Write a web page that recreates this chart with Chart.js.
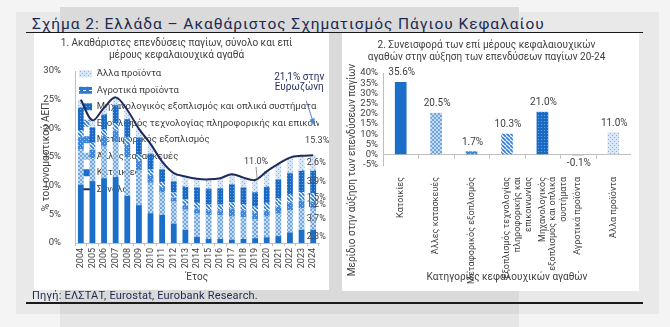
<!DOCTYPE html>
<html lang="el">
<head>
<meta charset="utf-8">
<title>Σχήμα 2: Ελλάδα – Ακαθάριστος Σχηματισμός Πάγιου Κεφαλαίου</title>
<script src="https://cdn.jsdelivr.net/npm/chart.js@4.4.1/dist/chart.umd.min.js"></script>
<style>
  html, body { margin: 0; padding: 0; }
  body {
    width: 670px; height: 327px; position: relative; overflow: hidden;
    background: #f4f4f4; font-family: Roboto, "Noto Sans", sans-serif;
  }
  .frame { position: absolute; left: 16px; top: 12px; width: 643px; height: 302px; background: #e9e9e9; }
  .band { position: absolute; left: 60px; top: 7px; width: 459px; height: 307px; background: #dadada; }
  .band-low { position: absolute; left: 60px; top: 314px; width: 459px; height: 13px; background: #e6e6e6; }
  .title {
    position: absolute; left: 32px; top: 15px; font-size: 15.5px; line-height: 18px;
    letter-spacing: 0.95px; color: #1d2a50; white-space: nowrap;
  }
  .rule { position: absolute; left: 26px; width: 617px; background: #1a1a1a; }
  .panel { position: absolute; background: #fff; }
  .panel canvas { display: block; }
  .source {
    position: absolute; left: 32px; top: 289px; font-size: 11px; line-height: 14px;
    letter-spacing: 0.2px; color: #1d2a50; white-space: nowrap;
  }
</style>
</head>
<body>
<div class="frame"></div>
<div class="band"></div>
<div class="band-low"></div>
<div class="title">Σχήμα 2: Ελλάδα – Ακαθάριστος Σχηματισμός Πάγιου Κεφαλαίου</div>
<div class="rule" style="top:32px;height:1px"></div>
<div class="panel" style="left:34px;top:33px;width:295px;height:257px">
  <canvas id="left" width="295" height="257"></canvas>
</div>
<div class="panel" style="left:342px;top:33px;width:297px;height:258px">
  <canvas id="right" width="297" height="258"></canvas>
</div>
<div class="source">Πηγή: ΕΛΣΤΑΤ, Eurostat, Eurobank Research.</div>
<div class="rule" style="top:302px;height:1.5px"></div>

<script>
// Figure 2: Greece, gross fixed capital formation.
// Left: GFCF by asset type (% of nominal GDP), right: contributions 2020-24.

const years = ["2004", "2005", "2006", "2007", "2008", "2009", "2010", "2011", "2012", "2013",
  "2014", "2015", "2016", "2017", "2018", "2019", "2020", "2021", "2022", "2023", "2024"];

// % of nominal GDP
const housing = [10.2, 10.8, 11.3, 11.5, 8.2, 6.6, 5.2, 4.9, 3.4, 2.3,
  1.1, 0.7, 0.7, 0.6, 0.7, 0.85, 1.0, 1.2, 1.85, 2.3, 2.3];
const otherConstruction = [6.2, 4.0, 5.5, 6.1, 6.8, 6.1, 5.3, 3.9, 3.8, 3.5,
  4.0, 4.2, 4.1, 4.0, 3.8, 3.3, 3.6, 3.9, 3.9, 3.8, 3.7];
const transport = [2.0, 1.5, 1.8, 2.0, 2.1, 1.6, 1.2, 0.8, 0.7, 0.8,
  0.9, 0.8, 0.9, 1.4, 1.2, 1.1, 1.0, 1.2, 1.3, 1.3, 1.2];
const ict = [1.3, 1.2, 1.2, 1.3, 1.3, 1.2, 1.1, 1.0, 0.9, 1.0,
  1.0, 1.0, 1.0, 1.1, 1.1, 1.1, 1.4, 1.5, 1.5, 1.5, 1.5];
const machinery = [3.8, 2.6, 2.6, 3.1, 3.2, 2.8, 2.7, 2.2, 1.9, 2.2,
  2.6, 2.7, 2.8, 3.1, 2.8, 2.45, 2.8, 3.2, 3.6, 3.7, 3.9];
const agri = [0.1, 0.1, 0.1, 0.1, 0.1, 0.1, 0.1, 0.1, 0.1, 0.1,
  0.1, 0.1, 0.1, 0.1, 0.1, 0.1, 0.1, 0.1, 0.1, 0.1, 0.1];
const otherProducts = [1.4, 1.2, 1.1, 1.3, 1.5, 1.5, 1.7, 1.3, 1.4, 1.7,
  1.5, 1.6, 1.7, 1.7, 1.7, 2.1, 2.6, 2.7, 2.65, 2.5, 2.6];
const total = [25.0, 21.4, 23.6, 25.4, 23.2, 19.9, 17.3, 14.2, 12.2, 11.6,
  11.2, 11.1, 11.3, 12.0, 11.4, 11.0, 12.5, 13.8, 14.9, 15.2, 15.3];

// contribution to GFCF growth 2020-24, %
const contribCategories = [
  "Κατοικίες",
  "Άλλες κατασκευές",
  "Μεταφορικός εξοπλισμός",
  ["Εξοπλισμός τεχνολογίας", "πληροφορικής και", "επικοινωνίας"],
  ["Μηχανολογικός", "εξοπλισμός και οπλικά", "συστήματα"],
  "Αγροτικά προϊόντα",
  "Άλλα προϊόντα",
];
const contribValues = [35.6, 20.5, 1.7, 10.3, 21.0, -0.1, 11.0];

const GREY = "#404040";
const NAVY = "#1f2a5c";
const AXIS = "#bfbfbf";
const FONT = "Roboto";
Chart.defaults.font.family = FONT;
Chart.defaults.color = GREY;

function tile(w, h, paint) {
  const c = document.createElement("canvas");
  c.width = w; c.height = h;
  const g = c.getContext("2d");
  paint(g);
  return g.createPattern(c, "repeat");
}

const fills = {
  housing: "#1c6fc9",
  otherConstruction: tile(4, 4, g => {
    g.fillStyle = "#c4dbf3"; g.fillRect(0, 0, 4, 4);
    g.fillStyle = "#6fa6e0"; g.fillRect(0, 0, 2, 2); g.fillRect(2, 2, 2, 2);
  }),
  transport: tile(4, 4, g => {
    g.fillStyle = "#3f86d6"; g.fillRect(0, 0, 4, 4);
    g.fillStyle = "#a8caf0"; g.fillRect(0, 0, 1, 1); g.fillRect(2, 2, 1, 1);
  }),
  ict: tile(4, 4, g => {
    g.fillStyle = "#ffffff"; g.fillRect(0, 0, 4, 4);
    g.strokeStyle = "#2a78d0"; g.lineWidth = 1.6;
    g.beginPath();
    [-4, 0, 4].forEach(k => { g.moveTo(k, 0); g.lineTo(k + 4, 4); });
    g.stroke();
  }),
  machinery: tile(3, 3, g => {
    g.fillStyle = "#1a6ac3"; g.fillRect(0, 0, 3, 3);
    g.fillStyle = "#6aa3e3"; g.fillRect(1, 1, 1, 1);
  }),
  agri: tile(6, 4, g => {
    g.fillStyle = "#2b79d1"; g.fillRect(0, 0, 6, 4);
    g.fillStyle = "#ffffff"; g.fillRect(1, 1, 3, 1);
  }),
  otherProducts: tile(4, 4, g => {
    g.fillStyle = "#d8e7f8"; g.fillRect(0, 0, 4, 4);
    g.fillStyle = "#86b4e8"; g.fillRect(0, 0, 1, 1); g.fillRect(2, 2, 1, 1);
  }),
};

// bottom-up stacking order
const stackDefs = [
  ["Κατοικίες", housing, fills.housing],
  ["Άλλες κατασκευές", otherConstruction, fills.otherConstruction],
  ["Μεταφορικός εξοπλισμός", transport, fills.transport],
  ["Εξοπλισμός τεχνολογίας πληροφορικής και επικοινωνίας", ict, fills.ict],
  ["Μηχανολογικός εξοπλισμός και οπλικά συστήματα", machinery, fills.machinery],
  ["Αγροτικά προϊόντα", agri, fills.agri],
  ["Άλλα προϊόντα", otherProducts, fills.otherProducts],
];

const barSets = stackDefs.map(([label, data, fill]) => ({
  type: "bar", label, data, backgroundColor: fill, borderWidth: 0,
  stack: "gfcf", order: 1, barPercentage: 0.5, categoryPercentage: 1,
}));
const LINE_IDX = barSets.length;

const legendRank = item => item.datasetIndex === LINE_IDX ? 100 : -item.datasetIndex;

const leftNotes = {
  id: "leftNotes",
  beforeDraw(chart) {
    // pull the in-plot legend up into the top-left corner
    chart.legend.top = chart.chartArea.top - 9;
    chart.legend.left = chart.chartArea.left - 3;
  },
  afterDatasetsDraw(chart) {
    const { ctx, scales: { x, y } } = chart;
    const last = years.length - 1;
    const xLast = x.getPixelForValue(last);
    ctx.save();
    ctx.textAlign = "center";
    ctx.textBaseline = "middle";

    // segment labels on the 2024 bar
    ctx.font = `9px ${FONT}`;
    ctx.fillStyle = GREY;
    let base = 0;
    stackDefs.forEach(([, data]) => {
      const v = data[last];
      if (v >= 0.5) ctx.fillText(v.toFixed(1) + "%", xLast + 3, y.getPixelForValue(base + v / 2));
      base += v;
    });

    // total labels
    ctx.fillText(total[last].toFixed(1) + "%", xLast + 4, y.getPixelForValue(total[last]) - 15);
    const i19 = years.indexOf("2019");
    const x19 = x.getPixelForValue(i19);
    const y19 = y.getPixelForValue(total[i19]);
    ctx.fillText(total[i19].toFixed(1) + "%", x19 + 1, y19 - 18);
    ctx.strokeStyle = "#7f7f7f";
    ctx.lineWidth = 0.8;
    ctx.beginPath();
    ctx.moveTo(x19 + 1, y19 - 13);
    ctx.lineTo(x19 + 2, y19 - 1);
    ctx.stroke();

    // euro area note + arrow
    ctx.font = `10px ${FONT}`;
    ctx.fillStyle = NAVY;
    ctx.fillText("21,1% στην", xLast - 14, y.getPixelForValue(28.8));
    ctx.fillText("Ευρωζώνη", xLast - 14, y.getPixelForValue(28.8) + 10);
    const ax0 = xLast - 7, ay0 = y.getPixelForValue(24.8);
    const ax1 = xLast + 1, ay1 = y.getPixelForValue(20.6);
    const ang = Math.atan2(ay1 - ay0, ax1 - ax0);
    ctx.strokeStyle = "#4f86d9";
    ctx.fillStyle = "#4f86d9";
    ctx.lineWidth = 1;
    ctx.beginPath();
    ctx.moveTo(ax0, ay0);
    ctx.lineTo(ax1 - 5 * Math.cos(ang), ay1 - 5 * Math.sin(ang));
    ctx.stroke();
    ctx.beginPath();
    ctx.moveTo(ax1, ay1);
    ctx.lineTo(ax1 - 7 * Math.cos(ang - 0.4), ay1 - 7 * Math.sin(ang - 0.4));
    ctx.lineTo(ax1 - 7 * Math.cos(ang + 0.4), ay1 - 7 * Math.sin(ang + 0.4));
    ctx.closePath();
    ctx.fill();
    ctx.restore();
  },
};

new Chart(document.getElementById("left"), {
  data: {
    labels: years,
    datasets: [
      ...barSets,
      {
        type: "line", label: "Σύνολο", data: total, borderColor: NAVY, backgroundColor: NAVY,
        borderWidth: 2, pointRadius: 0, tension: 0.35, fill: false, stack: "total", order: 0,
      },
    ],
  },
  options: {
    responsive: false,
    animation: false,
    events: [],
    layout: { padding: { right: 10 } },
    scales: {
      x: {
        stacked: true,
        grid: { offset: true, drawOnChartArea: false, tickLength: 3, color: AXIS },
        border: { color: AXIS },
        ticks: { minRotation: 90, maxRotation: 90, autoSkip: false, padding: 2, font: { size: 9 } },
        title: { display: true, text: "Έτος", font: { size: 10 }, padding: { top: 0, bottom: 7 } },
        afterFit: s => { s.height = 47; },
      },
      y: {
        stacked: true, min: 0, max: 30,
        grid: { display: false },
        border: { color: AXIS },
        ticks: { stepSize: 5, autoSkip: false, padding: 6, font: { size: 9.5 }, callback: v => v + "%" },
        title: { display: true, text: "% του ονομαστικού ΑΕΠ", font: { size: 10 }, padding: { top: 6, bottom: 0 } },
        afterFit: s => { s.width = 41; },
      },
    },
    plugins: {
      title: {
        display: true,
        text: ["1. Ακαθάριστες επενδύσεις παγίων, σύνολο και επί", "μέρους κεφαλαιουχικά αγαθά"],
        color: GREY, font: { size: 10, weight: "normal", lineHeight: 1.2 },
        padding: { top: 4, bottom: 10 },
      },
      legend: {
        position: "chartArea",
        align: "start",
        labels: {
          usePointStyle: true, pointStyleWidth: 13, boxHeight: 7, padding: 7,
          color: GREY, font: { size: 9.5 },
          generateLabels: chart => Chart.defaults.plugins.legend.labels.generateLabels(chart)
            .map(item => ({ ...item, pointStyle: item.datasetIndex === LINE_IDX ? "line" : "rect" })),
          sort: (a, b) => legendRank(a) - legendRank(b),
        },
      },
      tooltip: { enabled: false },
    },
  },
  plugins: [leftNotes],
});

const rightNotes = {
  id: "rightNotes",
  afterDatasetsDraw(chart) {
    const { ctx, chartArea, scales: { x, y } } = chart;
    const bars = chart.getDatasetMeta(0).data;
    ctx.save();
    // small category ticks hanging under the zero line
    const y0 = y.getPixelForValue(0);
    ctx.strokeStyle = AXIS;
    ctx.lineWidth = 1;
    ctx.beginPath();
    for (let i = 1; i < contribValues.length; i++) {
      const xb = Math.round((x.getPixelForValue(i - 1) + x.getPixelForValue(i)) / 2) + 0.5;
      ctx.moveTo(xb, y0);
      ctx.lineTo(xb, y0 + 4);
    }
    ctx.stroke();

    ctx.font = `10px ${FONT}`;
    ctx.fillStyle = GREY;
    ctx.textAlign = "center";
    ctx.textBaseline = "middle";
    bars.forEach((bar, i) => {
      const v = contribValues[i];
      ctx.fillText(v.toFixed(1) + "%", bar.x + 1, v >= 0 ? bar.y - 9 : bar.y + 9);
    });
    // y axis title, centred lower than the plot like the original
    ctx.translate(10, chartArea.top + 97);
    ctx.rotate(-Math.PI / 2);
    ctx.fillText("Μερίδιο στην αύξηση των επενδύσεων παγίων", 0, 0);
    ctx.restore();
  },
};

new Chart(document.getElementById("right"), {
  type: "bar",
  data: {
    labels: contribCategories,
    datasets: [{
      label: "Μερίδιο στην αύξηση των επενδύσεων παγίων",
      data: contribValues,
      backgroundColor: [fills.housing, fills.otherConstruction, fills.transport, fills.ict,
        fills.machinery, fills.agri, fills.otherProducts],
      borderWidth: 0, barPercentage: 0.33, categoryPercentage: 1,
    }],
  },
  options: {
    responsive: false,
    animation: false,
    events: [],
    layout: { padding: { right: 8 } },
    scales: {
      x: {
        grid: { display: false },
        border: { display: false },
        ticks: { minRotation: 90, maxRotation: 90, autoSkip: false, padding: 4, font: { size: 9 } },
        title: { display: true, text: "Κατηγορίες κεφαλουχικών αγαθών", font: { size: 10 }, padding: { top: 0, bottom: 8 } },
        afterFit: s => { s.height = 126; },
      },
      y: {
        min: -5, max: 40,
        grid: { drawTicks: false, color: c => c.tick.value === 0 ? AXIS : "rgba(0,0,0,0)" },
        border: { color: AXIS },
        ticks: { stepSize: 5, autoSkip: false, padding: 5, font: { size: 9.5 }, callback: v => v + "%" },
        afterFit: s => { s.width = 41; },
      },
    },
    plugins: {
      title: {
        display: true,
        text: ["2. Συνεισφορά των επί μέρους κεφαλαιουχικών", "αγαθών στην αύξηση των επενδύσεων παγίων 20-24"],
        color: GREY, font: { size: 10, weight: "normal", lineHeight: 1.2 },
        padding: { top: 6, bottom: 10 },
      },
      legend: { display: false },
      tooltip: { enabled: false },
    },
  },
  plugins: [rightNotes],
});
</script>
</body>
</html>
